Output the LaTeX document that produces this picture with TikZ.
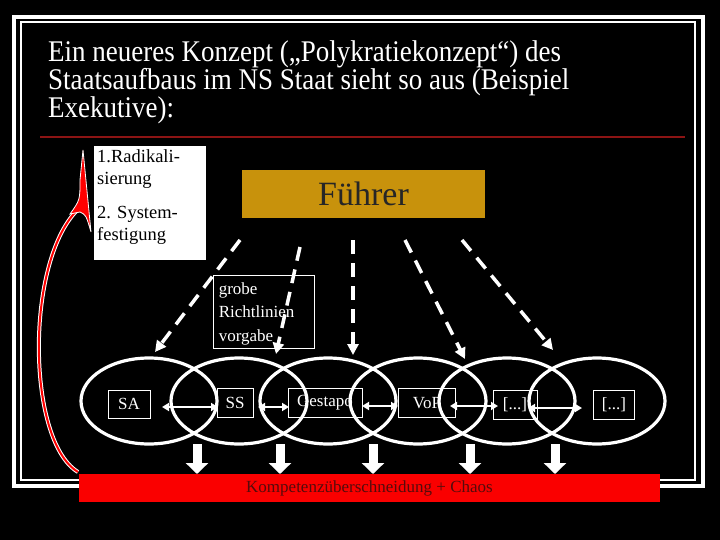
\documentclass[tikz,border=0pt]{standalone}
\usepackage{fontspec}
\setmainfont{Liberation Serif}
\usetikzlibrary{arrows.meta}
\definecolor{gold}{RGB}{200,146,12}
\definecolor{darkred}{RGB}{140,20,20}
\definecolor{barred}{RGB}{250,0,0}
\begin{document}
\begin{tikzpicture}[x=1pt,y=-1pt,
  lbl/.style={draw=white,line width=0.6pt,text=white,font=\fontsize{17}{19}\selectfont,inner sep=2pt,anchor=center},
  ell/.style={draw=white,line width=3.2pt},
  dsh/.style={draw=white,line width=3.5pt,dash pattern=on 14pt off 9pt,-{Triangle[length=11pt,width=11pt]}},
  dbl/.style={draw=white,line width=2.8pt,{Triangle[length=7pt,width=8pt]}-{Triangle[length=7pt,width=8pt]}},
  fat/.style={draw=white,line width=9pt,-{Triangle[length=11pt,width=22pt]}}]
\fill[black] (0,0) rectangle (720,540);
\useasboundingbox (0,0) rectangle (720,540);
% frame
\draw[white,line width=4pt] (14,17) rectangle (703,486);
\draw[white,line width=1.2pt] (21,22) rectangle (695,480);
% title
\node[anchor=north west,text=white,align=left,inner sep=0pt,font=\fontsize{30}{26.5}\selectfont,xscale=0.9] (title) at (48,40)
 {Ein neueres Konzept („Polykratiekonzept“) des\\Staatsaufbaus im NS Staat sieht so aus (Beispiel\\Exekutive):};
\draw[darkred,line width=2.2pt] (40,137) -- (685,137);
% boxes
\node[fill=white,minimum width=112pt,minimum height=114pt,inner sep=3pt,align=left,anchor=north west,text=black,font=\fontsize{18.5}{22}\selectfont] (steps) at (94,146)
 {\parbox[t][108pt][t]{106pt}{1.Radikali-\\sierung\\[12pt]2. System-\\festigung}};
\node[fill=gold,minimum width=243pt,minimum height=48pt,font=\fontsize{34}{36}\selectfont,text=black!85] (fuehrer) at (363.5,194) {Führer};
% ellipses
\foreach \c/\n in {149/e1,239/e2,328/e3,418/e4,507/e5,597/e6}
  \draw[ell] (\c,401) ellipse [x radius=68,y radius=43];
\node[lbl,minimum width=42pt,minimum height=28pt] (sa) at (129,404) {SA};
\node[lbl,minimum width=36pt,minimum height=29pt] (ss) at (235,403) {SS};
\node[lbl,minimum width=74pt,minimum height=29pt] (gestapo) at (325,403) {Gestapo};
\node[lbl,minimum width=57pt,minimum height=29pt] (vop) at (427,403) {VoP};
\node[lbl,minimum width=44pt,minimum height=29pt] (x1) at (515,405) {[...]};
\node[lbl,minimum width=41pt,minimum height=29pt] (x2) at (614,405) {[...]};
% grobe box
\node[draw=white,line width=0.6pt,text=white,minimum width=101pt,minimum height=73pt,inner sep=4pt,align=left,anchor=north west,font=\fontsize{17}{23.5}\selectfont] (grobe) at (213,275)
 {\parbox{90pt}{\vspace*{3pt}grobe\\Richtlinien\\vorgabe}};
% dashed arrows
\coordinate (d1s) at (240,240); \coordinate (d1e) at (155,352);
\coordinate (d2s) at (300,247); \coordinate (d2e) at (276,354);
\coordinate (d3s) at (353,240); \coordinate (d3e) at (353,355);
\coordinate (d4s) at (405,240); \coordinate (d4e) at (465,359);
\coordinate (d5s) at (462,240); \coordinate (d5e) at (553,350);
\foreach \a in {1,...,5} \draw[dsh] (d\a s) -- (d\a e);
% double arrows
\coordinate (h1a) at (162,407); \coordinate (h1b) at (218,407);
\coordinate (h2a) at (258,407); \coordinate (h2b) at (289,407);
\coordinate (h3a) at (362,406); \coordinate (h3b) at (398,406);
\coordinate (h4a) at (450,406); \coordinate (h4b) at (498,406);
\coordinate (h5a) at (528,408); \coordinate (h5b) at (582,408);
\foreach \a in {1,...,5} \draw[dbl] (h\a a) -- (h\a b);
% red bar
\node[fill=barred,minimum width=581pt,minimum height=28pt,inner sep=0pt,text=darkred!60!black,font=\fontsize{17}{19}\selectfont] (bar) at (369.5,488) {Kompetenzüberschneidung + Chaos};
% fat arrows
\foreach \x in {197,280,373,470,555} \draw[fat] (\x,444) -- (\x,474);
% red curved arrow
\draw[white,line width=4pt] (78,472) .. controls (25,440) and (25,250) .. (83,205);
\draw[red,line width=2pt] (78,472) .. controls (25,440) and (25,250) .. (83,205);
\filldraw[fill=red,draw=white,line width=0.8pt] (83,150) -- (91,232) .. controls (86,215) .. (80,212) -- (70,214) .. controls (80,200) .. (80,180) -- cycle;
\end{tikzpicture}
\end{document}
